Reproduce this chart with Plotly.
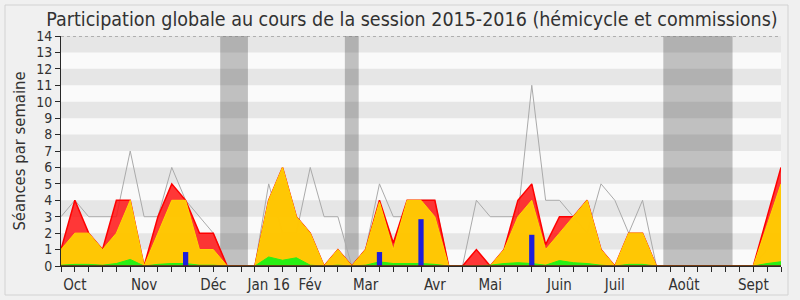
import plotly.graph_objects as go

weeks = list(range(53))
total_line = [3, 4, 3, 3, 3, 7, 3, 3, 6, 4, 3, 2, 0, 0, 0, 5, 2, 2, 6, 3, 3, 0, 1, 5, 3,
              3, 4, 4, 0, 0, 4, 3, 3, 3, 11, 4, 4, 3, 2, 5, 4, 2, 4, 0, 0, 0, 0, 0, 0, 0,
              0, 1, 2]
red_vals = [1, 4, 2, 1, 4, 4, 0, 3, 5, 4, 2, 2, 0, 0, 0, 4, 6, 3, 2, 0, 1, 0, 1, 4, 1.4,
            4, 4, 4, 0, 0, 1, 0, 1, 4, 5, 1.3, 3, 3, 4, 1, 0, 2, 2, 0, 0, 0, 0, 0, 0, 0,
            0, 3, 6]
yellow_vals = [1, 2, 2, 1, 2, 4, 0, 2, 4, 4, 1, 1, 0, 0, 0, 4, 6, 3, 2, 0, 1, 0, 1, 3.9, 1,
               4, 4, 3, 0, 0, 0, 0, 1, 3, 4, 1, 2, 3, 4, 1, 0, 2, 2, 0, 0, 0, 0, 0, 0, 0,
               0, 2.5, 5]
green_vals = [0.05, 0.1, 0.1, 0.05, 0.15, 0.4, 0, 0.1, 0.15, 0.15, 0.05, 0.05, 0, 0, 0,
              0.55, 0.35, 0.5, 0.05, 0, 0.05, 0, 0.05, 0.25, 0.15, 0.15, 0.15, 0.1, 0, 0,
              0, 0.05, 0.15, 0.2, 0.15, 0.05, 0.33, 0.2, 0.15, 0.05, 0, 0.1, 0.1, 0, 0,
              0, 0, 0, 0, 0, 0, 0.15, 0.26]
blue_weeks = [9, 23, 26, 34]
blue_vals = [0.85, 0.85, 2.85, 1.9]

month_ticks = [1, 6, 11, 15, 18, 22, 27, 31, 36, 40, 45, 50]
month_labels = ["Oct", "Nov", "Déc", "Jan 16", "Fév", "Mar", "Avr", "Mai", "Juin",
                "Juil", "Août", "Sept"]
vacations = [(11.5, 13.5), (20.5, 21.5), (43.5, 48.5)]

FONT = "DejaVu Sans Condensed, DejaVu Sans"
TXT = "rgb(50,50,50)"

fig = go.Figure()
fig.add_trace(go.Scatter(x=weeks, y=total_line, mode="lines",
                         line=dict(color="rgb(170,170,170)", width=1), hoverinfo="skip"))
fig.add_trace(go.Scatter(x=weeks, y=red_vals, mode="lines", fill="tozeroy",
                         fillcolor="rgba(255,20,20,0.85)",
                         line=dict(color="rgb(255,0,0)", width=1.5)))
fig.add_trace(go.Scatter(x=weeks, y=yellow_vals, mode="lines", fill="tozeroy",
                         fillcolor="rgba(255,210,0,0.93)",
                         line=dict(color="rgb(255,215,0)", width=1)))
fig.add_trace(go.Scatter(x=weeks, y=green_vals, mode="lines", fill="tozeroy",
                         fillcolor="rgb(40,240,20)",
                         line=dict(color="rgb(40,240,20)", width=1)))
fig.add_trace(go.Bar(x=blue_weeks, y=blue_vals, width=0.38, yaxis="y2",
                     marker=dict(color="rgb(30,30,220)", line=dict(width=0))))

shapes = []
for a, b in vacations:
    shapes.append(dict(type="rect", xref="x", yref="y", x0=a, x1=b, y0=0, y1=14,
                       fillcolor="rgb(192,192,192)", line=dict(width=0), layer="below"))
for k in range(1, 14, 2):
    shapes.append(dict(type="rect", xref="x", yref="y", x0=0, x1=52, y0=k, y1=k + 1,
                       fillcolor="rgba(0,0,0,0.08)", line=dict(width=0), layer="below"))
shapes.append(dict(type="line", xref="paper", yref="y", x0=0, x1=1, y0=14, y1=14,
                   line=dict(color="rgb(120,120,120)", width=1, dash="dot"), layer="above"))
shapes.append(dict(type="line", xref="paper", yref="y", x0=0, x1=1, y0=0, y1=0,
                   line=dict(color="rgb(110,20,20)", width=1.5), layer="above"))
# outer rounded frame
shapes.append(dict(type="rect", xref="paper", yref="paper",
                   x0=-56 / 720, x1=1 + 7 / 720, y0=-29 / 230, y1=1 + 31 / 230,
                   fillcolor="rgba(0,0,0,0)", line=dict(color="rgb(210,210,210)", width=1),
                   layer="below"))

fig.update_layout(
    width=800, height=300,
    margin=dict(l=61, r=19, t=36, b=34),
    paper_bgcolor="rgb(240,240,240)",
    plot_bgcolor="rgb(250,250,250)",
    showlegend=False,
    barmode="overlay",
    shapes=shapes,
    title=dict(text="Participation globale au cours de la session 2015-2016 (hémicycle et commissions)",
               x=0.515, xanchor="center", y=0.935, yanchor="middle",
               font=dict(family=FONT, size=19.5, color=TXT)),
    font=dict(family=FONT, size=15, color=TXT),
    xaxis=dict(range=[0, 52], tickmode="array", tickvals=weeks,
               ticktext=[month_labels[month_ticks.index(w)] if w in month_ticks else ""
                         for w in weeks],
               ticks="outside", ticklen=5, tickcolor="rgb(40,40,40)",
               showgrid=False, zeroline=False, showline=True, automargin=False,
               linecolor="rgb(40,40,40)", linewidth=1,
               tickfont=dict(family=FONT, size=15, color=TXT)),
    yaxis=dict(range=[0, 14], tickmode="linear", tick0=0, dtick=1,
               ticks="outside", ticklen=5, tickcolor="rgb(40,40,40)",
               showgrid=False, zeroline=False, showline=True, automargin=False,
               linecolor="rgb(40,40,40)", linewidth=1,
               tickfont=dict(family=FONT, size=14, color=TXT),
               title=dict(text="Séances par semaine", standoff=6,
                          font=dict(family=FONT, size=16.5, color=TXT))),
    yaxis2=dict(range=[0, 14], overlaying="y", visible=False, showgrid=False,
                zeroline=False),
)

fig.write_html("out.html")
